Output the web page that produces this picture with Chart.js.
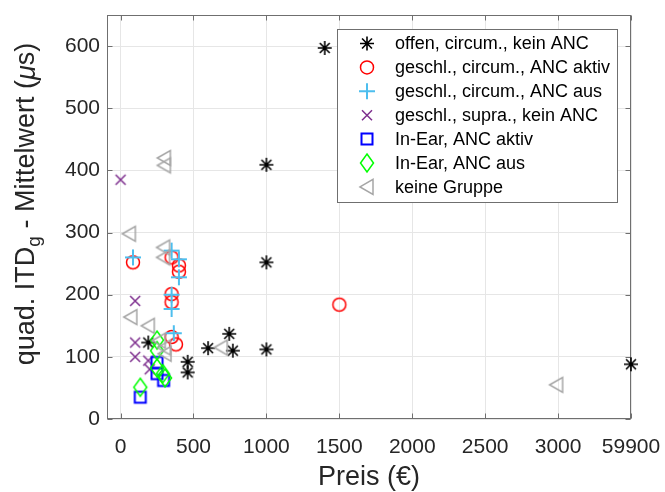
<!DOCTYPE html>
<html><head><meta charset="utf-8">
<script src="https://cdn.jsdelivr.net/npm/chart.js@4/dist/chart.umd.min.js"></script>
<style>html,body{margin:0;padding:0;background:#fff}#wrap{width:665px;height:492px;position:relative}</style>
</head><body><div id="wrap"><canvas id="c" width="665" height="492"></canvas></div>
<script>
// ---- data (x = Preis in €, plotted position; 59900 € drawn at the broken-axis slot 3500) ----
const seriesNames = ['offen, circum., kein ANC','geschl., circum., ANC aktiv','geschl., circum., ANC aus','geschl., supra., kein ANC','In-Ear, ANC aktiv','In-Ear, ANC aus','keine Gruppe'];
const offenX = [1400, 1000, 1000, 1000, 3500, 745, 770, 600, 460, 460, 190];
const offenY = [597, 409, 252, 112, 88, 137, 110, 114, 92, 75, 123];
const ancAktivX = [85, 350, 400, 400, 350, 350, 350, 380, 1500];
const ancAktivY = [252, 260, 247, 237, 201, 188, 132, 120, 184];
const ancAusX = [85, 350, 400, 400, 350, 350, 365];
const ancAusY = [260, 271, 257, 228, 200, 177, 138];
const supraX = [0, 100, 100, 100, 190, 200];
const supraY = [385, 190, 123, 100, 94, 80];
const inEarAktivX = [135, 250, 250, 295];
const inEarAktivY = [35, 91, 73, 62];
const inEarAusX = [135, 250, 250, 250, 290, 305];
const inEarAusY = [51, 127, 110, 82, 73, 66];
const keineX = [300, 300, 60, 295, 295, 70, 190, 265, 300, 305, 690, 2990];
const keineY = [420, 408, 298, 276, 260, 164, 150, 126, 115, 105, 115, 55];
const xTickValues = [0, 500, 1000, 1500, 2000, 2500, 3000, 3500];
const xTickLabels = ['0', '500', '1000', '1500', '2000', '2500', '3000', '59900'];
const yTickValues = [0, 100, 200, 300, 400, 500, 600];
const xTitle = 'Preis (€)';

// ---- styling ----
const markerTypes = ['star','circle','plus','x','square','diamond','triangle'];
const markerColors = ['#000000','#ff0000','#4dbeee','#7e2f8e','#0000ff','#00ff00','#a6a6a6'];
const FONT = '"Liberation Sans", Arial, Helvetica, sans-serif';
const AXIS_COLOR = '#6f6f6f';
const TEXT_COLOR = '#262626';
const TITLE_SIZE = 27;

function drawMarker(g, type, color, cx, cy){
  g.save(); g.strokeStyle = color; g.lineCap = 'butt'; g.lineJoin = 'miter';
  g.beginPath();
  switch(type){
    case 'star': g.lineWidth = 1.6;
      for (let k = 0; k < 4; k++){ const a = k*Math.PI/4, r = 7;
        g.moveTo(cx - r*Math.cos(a), cy - r*Math.sin(a)); g.lineTo(cx + r*Math.cos(a), cy + r*Math.sin(a)); }
      break;
    case 'circle': g.lineWidth = 1.5; g.arc(cx, cy, 6.5, 0, 2*Math.PI); break;
    case 'plus': g.lineWidth = 2; g.moveTo(cx-8, cy); g.lineTo(cx+8, cy); g.moveTo(cx, cy-8); g.lineTo(cx, cy+8); break;
    case 'x': g.lineWidth = 1.5; g.moveTo(cx-5, cy-5); g.lineTo(cx+5, cy+5); g.moveTo(cx+5, cy-5); g.lineTo(cx-5, cy+5); break;
    case 'square': g.lineWidth = 2; g.rect(cx-5.5, cy-5.5, 11, 11); break;
    case 'diamond': g.lineWidth = 1.5; g.moveTo(cx, cy-9); g.lineTo(cx+6.5, cy); g.lineTo(cx, cy+9); g.lineTo(cx-6.5, cy); g.closePath(); break;
    case 'triangle': g.lineWidth = 1.5; g.moveTo(cx-7, cy); g.lineTo(cx+6, cy-7.5); g.lineTo(cx+6, cy+7.5); g.closePath(); break;
  }
  g.stroke(); g.restore();
}
function makeMarker(type, color){
  const cv = document.createElement('canvas'); cv.width = 26; cv.height = 26;
  drawMarker(cv.getContext('2d'), type, color, 13, 13);
  return cv;
}
const markerImgs = markerTypes.map((t,i) => makeMarker(t, markerColors[i]));

const seriesX = [offenX, ancAktivX, ancAusX, supraX, inEarAktivX, inEarAusX, keineX];
const seriesY = [offenY, ancAktivY, ancAusY, supraY, inEarAktivY, inEarAusY, keineY];

const datasets = seriesNames.map((name, i) => ({
  label: name,
  data: seriesX[i].map((v, j) => ({x: v, y: seriesY[i][j]})),
  pointStyle: markerImgs[i],
  pointRadius: 8, pointHoverRadius: 8,
  showLine: false, clip: false, order: 10 - i
}));

const framePlugin = {
  id: 'frame',
  beforeDatasetsDraw(chart){
    const {ctx, chartArea: a, scales: {x, y}} = chart;
    ctx.save();
    ctx.strokeStyle = AXIS_COLOR; ctx.lineWidth = 1;
    const L = Math.round(a.left)+0.5, R = Math.round(a.right)-0.5, T = Math.round(a.top)+0.5, B = Math.round(a.bottom)-0.5;
    ctx.strokeRect(L, T, R-L, B-T);
    ctx.beginPath();
    xTickValues.forEach(v => { const px = Math.round(x.getPixelForValue(v))+0.5;
      ctx.moveTo(px, B); ctx.lineTo(px, B-5); ctx.moveTo(px, T); ctx.lineTo(px, T+5); });
    yTickValues.forEach(v => { const py = Math.round(y.getPixelForValue(v))+0.5;
      ctx.moveTo(L, py); ctx.lineTo(L+5, py); ctx.moveTo(R, py); ctx.lineTo(R-5, py); });
    ctx.stroke();
    ctx.restore();
  },
  afterDraw(chart){
    const {ctx, chartArea: a} = chart;
    ctx.save();
    // x title
    ctx.fillStyle = TEXT_COLOR; ctx.font = TITLE_SIZE + 'px ' + FONT;
    ctx.textAlign = 'center'; ctx.textBaseline = 'middle';
    ctx.fillText(xTitle, (a.left + a.right)/2, 478);
    // y title with subscript and italic mu
    const parts = [
      {t: 'quad. ITD', f: TITLE_SIZE + 'px ' + FONT, dy: 0},
      {t: 'g', f: Math.round(TITLE_SIZE*0.72) + 'px ' + FONT, dy: 8},
      {t: ' - Mittelwert (', f: TITLE_SIZE + 'px ' + FONT, dy: 0},
      {t: 'μ', f: 'italic ' + TITLE_SIZE + 'px ' + FONT, dy: 0},
      {t: 's)', f: TITLE_SIZE + 'px ' + FONT, dy: 0}
    ];
    let total = 0;
    parts.forEach(p => { ctx.font = p.f; p.w = ctx.measureText(p.t).width; total += p.w; });
    ctx.translate(27, 204);
    ctx.rotate(-Math.PI/2);
    ctx.textAlign = 'left';
    let cx = -total/2;
    parts.forEach(p => { ctx.font = p.f; ctx.fillText(p.t, cx, p.dy); cx += p.w; });
    ctx.restore();

    // legend
    ctx.save();
    const bx = 337, by = 29, bw = 280, bh = 173;
    ctx.fillStyle = '#ffffff'; ctx.fillRect(bx, by, bw, bh);
    ctx.strokeStyle = AXIS_COLOR; ctx.lineWidth = 1;
    ctx.strokeRect(bx + 0.5, by + 0.5, bw, bh);
    ctx.font = '18px ' + FONT; ctx.fillStyle = '#000000';
    ctx.textAlign = 'left'; ctx.textBaseline = 'middle';
    seriesNames.forEach((name, i) => {
      const ry = 43.5 + i*23.9;
      drawMarker(ctx, markerTypes[i], markerColors[i], 367, ry);
      ctx.fillText(name, 395, ry + 1);
    });
    ctx.restore();
  }
};

new Chart(document.getElementById('c'), {
  type: 'scatter',
  data: {datasets},
  options: {
    responsive: false, animation: false, events: [],
    layout: {padding: {top: 15, right: 34, left: 0, bottom: 0}},
    plugins: {legend: {display: false}, tooltip: {enabled: false}},
    scales: {
      x: {
        type: 'linear', min: -93, max: 3500,
        afterBuildTicks: s => { s.ticks = xTickValues.map(v => ({value: v})); },
        afterFit: s => { s.height = 73; s.paddingLeft = 0; s.paddingRight = 0; },
        grid: {color: '#e6e6e6', drawTicks: false},
        border: {display: false},
        ticks: {
          callback: v => xTickLabels[xTickValues.indexOf(v)],
          font: {family: FONT, size: 21}, color: TEXT_COLOR, padding: 16,
          maxRotation: 0, autoSkip: false
        }
      },
      y: {
        type: 'linear', min: 0, max: 650,
        afterBuildTicks: s => { s.ticks = yTickValues.map(v => ({value: v})); },
        afterFit: s => { s.width = 107; s.paddingTop = 0; s.paddingBottom = 0; },
        grid: {color: '#e6e6e6', drawTicks: false},
        border: {display: false},
        ticks: {
          callback: v => String(v),
          font: {family: FONT, size: 21}, color: TEXT_COLOR, padding: 7,
          autoSkip: false
        }
      }
    }
  },
  plugins: [framePlugin]
});
</script>
</body></html>
